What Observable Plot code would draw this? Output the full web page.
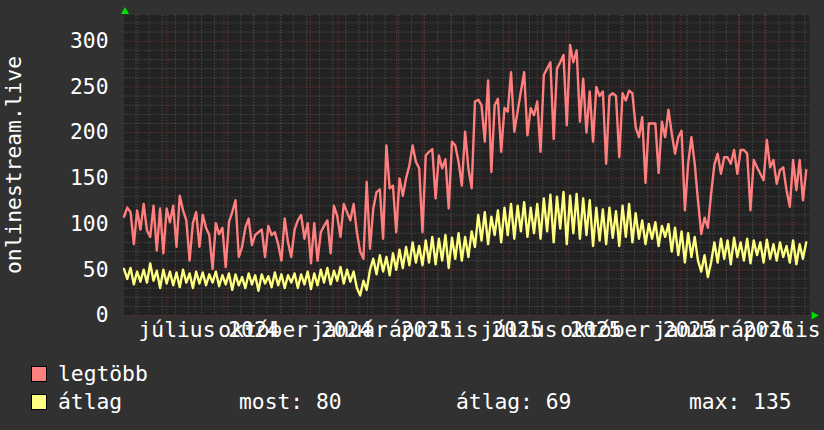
<!DOCTYPE html>
<html><head><meta charset="utf-8">
<script src="https://cdn.jsdelivr.net/npm/d3@7"></script>
<script src="https://cdn.jsdelivr.net/npm/@observablehq/plot@0.6"></script>
<style>
body{margin:0;background:#313131;width:824px;height:430px;overflow:hidden;font-family:"DejaVu Sans Mono",monospace;color:#fff}
#chart{position:relative;width:824px;height:430px;background:#313131}
#chart svg{position:absolute;left:0;top:0}
.lg{position:absolute;font-size:21.3px;line-height:21px;white-space:pre;color:#fff}
.sw{position:absolute;width:14px;height:14px;border:1px solid #000}
</style></head><body><div id="chart"></div>
<script>
const seriesNames = ["legtöbb", "átlag"];
const seriesColors = ["#ff7f7f", "#ffff7f"];
const startDate = "2024-04-16T06:00:00Z";
const stepDays = 3.5;
const maxValues = [
108,118,113,78,115,94,122,93,86,120,
71,117,68,117,102,120,75,131,115,104,
60,101,113,75,110,96,88,51,101,89,
96,53,102,113,126,64,75,96,106,77,
88,91,94,64,98,88,91,78,60,106,
80,64,94,104,110,84,101,57,101,60,
91,98,104,68,120,109,86,122,113,104,
122,91,70,62,146,73,117,135,138,84,
186,139,142,91,150,131,150,164,186,168,
161,91,175,179,182,128,175,161,171,117,
190,186,168,142,201,161,139,234,236,230,
190,257,157,230,237,179,227,223,266,201,
223,245,266,197,227,219,234,179,263,270,
277,193,270,277,285,208,296,277,290,212,
259,200,245,190,250,240,245,166,240,243,
240,173,243,235,246,243,206,195,217,145,
210,210,210,156,212,195,225,199,177,195,
202,115,166,195,166,126,89,107,96,133,
165,177,155,173,173,166,181,155,181,181,
177,115,170,162,155,148,192,162,170,144,
159,162,137,119,170,137,170,126,159];
const avgValues = [
51,40,52,34,48,37,50,36,57,38,
49,30,50,35,48,33,47,31,50,36,
46,30,48,35,47,33,45,36,48,32,
44,34,46,28,45,33,42,30,46,34,
44,27,45,35,43,31,47,33,45,30,
44,36,46,30,45,34,48,29,46,33,
50,36,52,34,49,38,53,35,50,37,
48,30,22,38,28,50,62,45,66,48,
64,44,68,50,72,52,75,55,80,58,
76,55,82,58,86,56,84,60,88,52,
85,62,90,60,86,64,92,75,110,82,
113,78,108,88,115,80,118,88,122,84,
120,92,124,86,118,90,122,84,128,92,
132,80,130,95,135,78,131,90,133,84,
128,88,126,76,118,82,116,78,118,85,
114,76,120,86,122,80,112,84,104,78,
100,84,102,76,98,86,100,70,96,66,
92,58,90,64,86,60,48,66,42,58,
80,58,84,62,82,56,85,64,80,60,
84,57,82,66,80,58,83,62,78,60,
80,64,76,58,82,56,78,62,80];
const yTicks = [0, 50, 100, 150, 200, 250, 300];
const xLabels = ["július 2024", "október 2024", "január 2025", "április 2025", "július 2025", "október 2025", "január 2026", "április 2026"];
const xLabelDates = ["2024-07-16", "2024-10-16", "2025-01-16", "2025-04-16", "2025-07-16", "2025-10-16", "2026-01-16", "2026-04-16"];
const yTitle = "onlinestream.live";
const legendStats = ["most: 80", "átlag: 69", "max: 135"];

const t0 = new Date(startDate).getTime();
const DAY = 86400000;
const toRows = vals => vals.map((v, i) => ({date: new Date(t0 + i * stepDays * DAY), value: v}));
const maxData = toRows(maxValues);
const avgData = toRows(avgValues);

const x0 = new Date("2024-04-16T06:00:00Z"), x1 = new Date("2026-04-17T18:00:00Z");
const months = d3.utcMonth.range(x0, x1);
const biweek = d3.utcMonday.range(new Date("2024-04-29T00:00:00Z"), x1, 2);
const minorY = d3.range(0, 330, 10).filter(v => v % 50 !== 0);
const majorY = d3.range(0, 330, 50);
const FONT = "DejaVu Sans Mono";
const FS = 21.3;
const H = 345;

const plot = Plot.plot({
  width: 824, height: H,
  marginLeft: 123.5, marginRight: 15, marginTop: 14.7, marginBottom: H - 315,
  x: {type: "utc", domain: [x0, x1], axis: null},
  y: {domain: [0, 328.4], axis: null},
  style: {background: "#313131", fontFamily: FONT, color: "#fff"},
  marks: [
    Plot.frame({fill: "#222222", stroke: null}),
    Plot.ruleY(minorY, {stroke: "#5c5c5c", strokeDasharray: "1,2"}),
    Plot.ruleX(biweek, {stroke: "#5c5c5c", strokeDasharray: "1,2"}),
    Plot.ruleY(majorY, {stroke: "#8c3434", strokeDasharray: "1,2"}),
    Plot.ruleX(months, {stroke: "#8c3434", strokeDasharray: "1,2"}),
    Plot.line(maxData, {x: "date", y: "value", stroke: seriesColors[0], strokeWidth: 2.4}),
    Plot.line(avgData, {x: "date", y: "value", stroke: seriesColors[1], strokeWidth: 2.4}),
    Plot.text(yTicks, {y: d => d, frameAnchor: "left", dx: -15.5, text: d => String(d), textAnchor: "end", lineAnchor: "middle", fill: "#fff", fontSize: FS, fontFamily: FONT}),
    Plot.text(xLabels, {x: (d, i) => new Date(xLabelDates[i] + "T00:00:00Z"), frameAnchor: "bottom", dy: 14.3, text: d => d, lineAnchor: "middle", fill: "#fff", fontSize: FS, fontFamily: FONT}),
    Plot.dot([0], {frameAnchor: "top-left", dx: 1, dy: -3.5, symbol: "triangle", r: 3, fill: "#00dd00", stroke: null}),
    Plot.dot([0], {frameAnchor: "bottom-right", dx: 4.5, dy: 0, symbol: "triangle", r: 3, rotate: 90, fill: "#00dd00", stroke: null})
  ]
});
d3.select(plot).append("text")
  .attr("transform", "translate(14,165) rotate(-90)")
  .attr("text-anchor", "middle")
  .attr("dy", "0.32em")
  .attr("fill", "#fff")
  .attr("font-family", FONT)
  .attr("font-size", FS)
  .text(yTitle);
const chart = document.getElementById("chart");
chart.appendChild(plot);

function addText(txt, left, top) {
  const d = document.createElement("div");
  d.className = "lg"; d.textContent = txt;
  d.style.left = left + "px"; d.style.top = top + "px";
  chart.appendChild(d);
}
function addSwatch(color, left, top) {
  const d = document.createElement("div");
  d.className = "sw"; d.style.background = color;
  d.style.left = left + "px"; d.style.top = top + "px";
  chart.appendChild(d);
}
addSwatch(seriesColors[0], 31, 366);
addText(seriesNames[0], 58, 363.2);
addSwatch(seriesColors[1], 31, 394);
addText(seriesNames[1], 58, 391.4);
addText(legendStats[0], 239, 391.4);
addText(legendStats[1], 456, 391.4);
addText(legendStats[2], 689, 391.4);
</script></body></html>
